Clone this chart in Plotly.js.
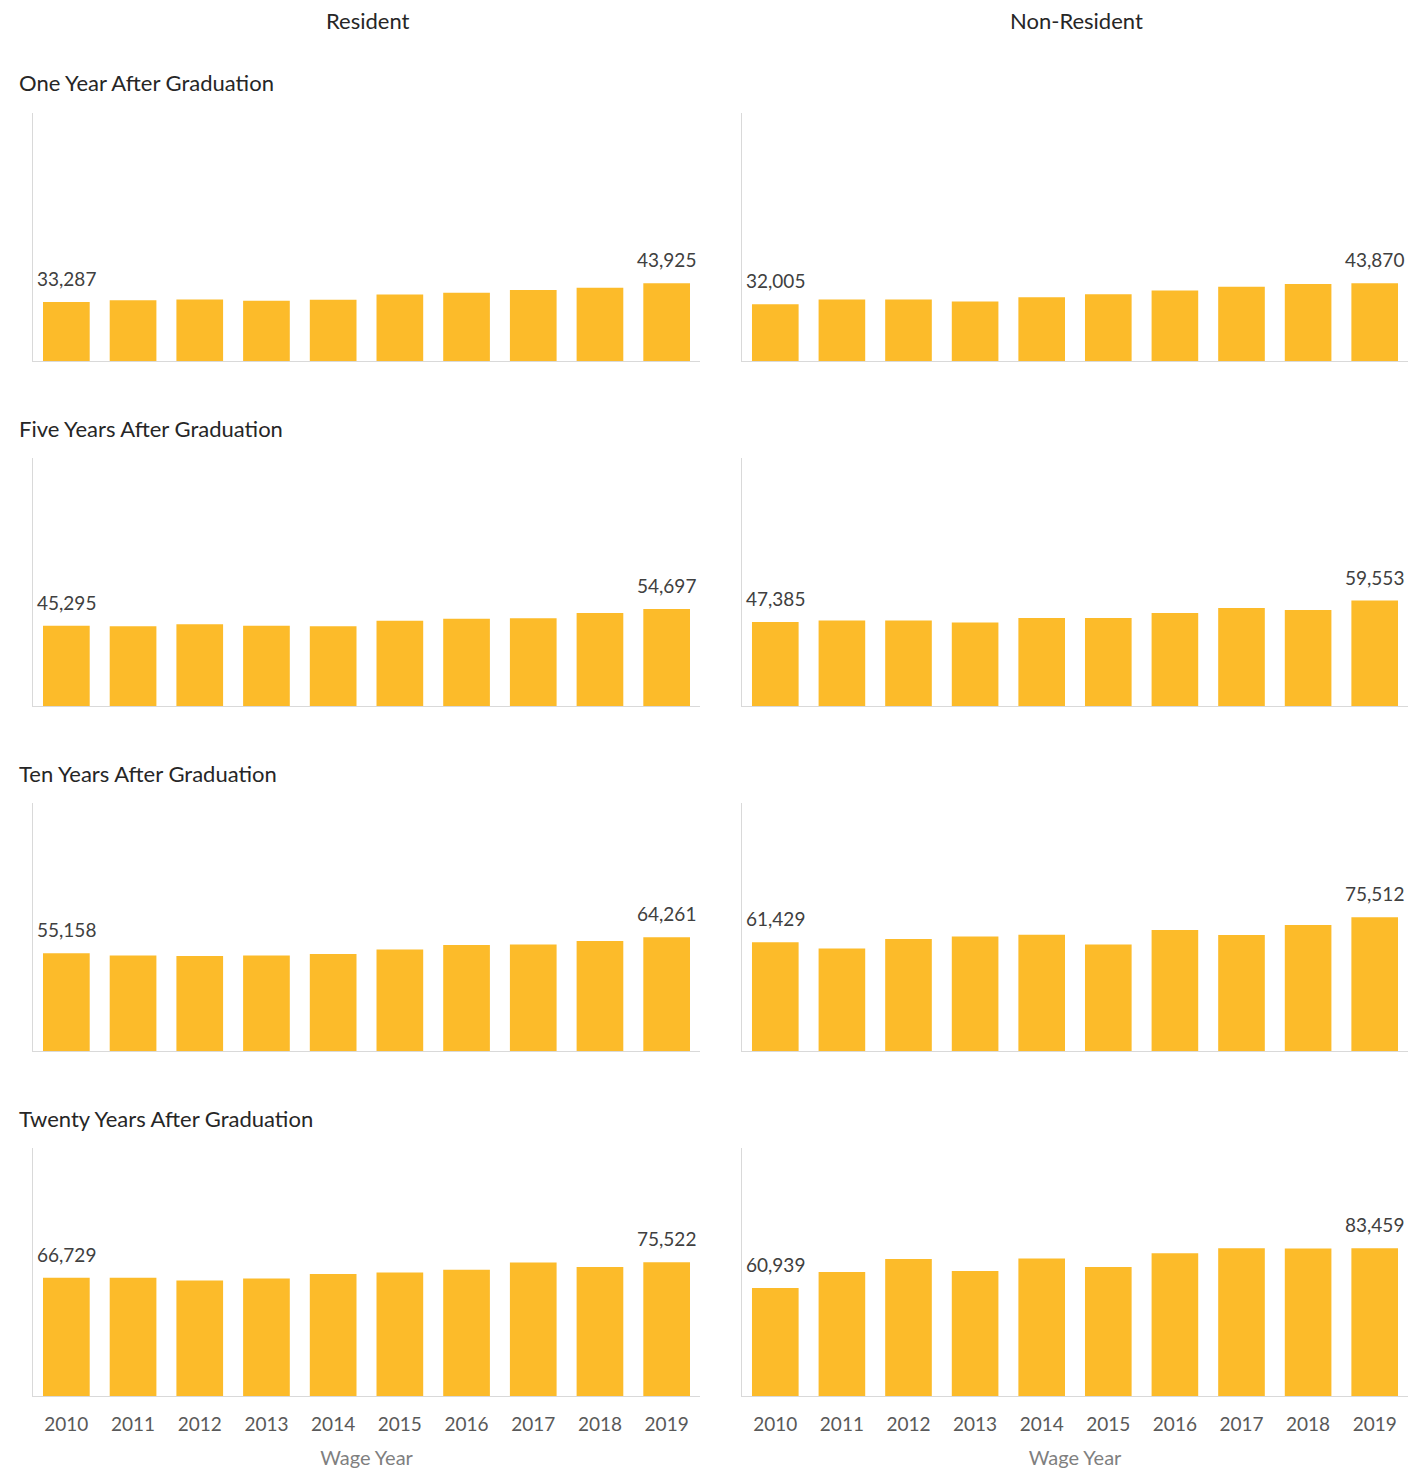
<!DOCTYPE html>
<html>
<head>
<meta charset="utf-8">
<script src="https://cdn.plot.ly/plotly-3.0.1.min.js"></script>
<style>html,body{margin:0;padding:0;background:#fff;}#chart{width:1408px;height:1470px;}</style>
</head>
<body>
<div id="chart"></div>
<script>
// ---- Data ----
const years = ['2010','2011','2012','2013','2014','2015','2016','2017','2018','2019'];
const columnTitles = ['Resident', 'Non-Resident'];
const rowTitles = ['One Year After Graduation', 'Five Years After Graduation', 'Ten Years After Graduation', 'Twenty Years After Graduation'];
const xAxisTitle = 'Wage Year';

const resident1 = [33287, 34360, 34740, 33980, 34550, 37570, 38520, 40030, 41350, 43925];
const nonResident1 = [32005, 34720, 34720, 33590, 36040, 37740, 39820, 41890, 43400, 43870];
const resident5 = [45295, 45080, 46210, 45295, 45080, 48090, 49230, 49600, 52430, 54697];
const nonResident5 = [47385, 48200, 48200, 47100, 49710, 49710, 52540, 55360, 54230, 59553];
const resident10 = [55158, 53960, 53580, 53960, 54710, 57340, 59780, 60160, 62040, 64261];
const nonResident10 = [61429, 57900, 63170, 64670, 65610, 60160, 68240, 65420, 71060, 75512];
const resident20 = [66729, 66700, 65240, 66360, 68810, 69750, 71250, 75390, 72760, 75522];
const nonResident20 = [60939, 69940, 77270, 70500, 77640, 72760, 80650, 83400, 83280, 83459];

const panels = [
  [resident1, nonResident1],
  [resident5, nonResident5],
  [resident10, nonResident10],
  [resident20, nonResident20]
];

// ---- Layout geometry (pixels) ----
const W = 1408, H = 1470;
const colPx = [[33, 700], [742, 1408]];
const rowPx = [[113, 361], [458, 706], [803, 1051], [1148, 1396]];
const rowTitleY = [83, 428, 773, 1118];
const colTitleX = [368, 1076];
const FONT = 'Lato, "Open Sans", sans-serif';
const BAR = '#FCBB2A';

const fmt = v => v.toLocaleString('en-US');

const data = [];
const layout = {
  width: W, height: H,
  margin: {l: 0, r: 0, t: 0, b: 0},
  paper_bgcolor: '#fff', plot_bgcolor: '#fff',
  showlegend: false,
  bargap: 0.3,
  font: {family: FONT, color: '#595959'},
  annotations: []
};

let idx = 0;
for (let r = 0; r < 4; r++) {
  for (let c = 0; c < 2; c++) {
    idx++;
    const xa = idx === 1 ? 'x' : 'x' + idx;
    const ya = idx === 1 ? 'y' : 'y' + idx;
    const vals = panels[r][c];
    data.push({
      type: 'bar', x: years, y: vals, xaxis: xa, yaxis: ya,
      marker: {color: BAR, line: {width: 0}},
      hoverinfo: 'x+y'
    });
    const last = r === 3;
    layout['xaxis' + (idx === 1 ? '' : idx)] = {
      domain: [colPx[c][0] / W, colPx[c][1] / W],
      anchor: ya,
      type: 'category',
      range: [-0.5, years.length - 0.5],
      autorange: false,
      showline: true, linecolor: '#d9d9d9', linewidth: 1,
      showgrid: false, zeroline: false, ticks: '',
      showticklabels: last,
      ticklabelstandoff: 11,
      tickfont: {family: FONT, size: 19, color: '#595959'},
      title: last ? {text: xAxisTitle, font: {family: FONT, size: 20, color: '#7f7f7f'}, standoff: 17} : {text: ''},
      fixedrange: true
    };
    layout['yaxis' + (idx === 1 ? '' : idx)] = {
      domain: [1 - rowPx[r][1] / H, 1 - rowPx[r][0] / H],
      anchor: xa,
      range: [0, 140000],
      autorange: false,
      showline: true, linecolor: '#d9d9d9', linewidth: 1,
      showgrid: false, zeroline: false, ticks: '', showticklabels: false,
      fixedrange: true
    };
    // data labels on first and last bars
    [0, vals.length - 1].forEach(i => {
      layout.annotations.push({
        xref: xa, yref: ya, x: i, y: vals[i],
        text: fmt(vals[i]), showarrow: false,
        xanchor: 'center', yanchor: 'bottom', yshift: 10,
        font: {family: FONT, size: 19, color: '#404040'}
      });
    });
  }
}

rowTitles.forEach((t, r) => {
  layout.annotations.push({
    xref: 'paper', yref: 'paper', x: 17 / W, y: 1 - rowTitleY[r] / H,
    xanchor: 'left', yanchor: 'middle', text: t, showarrow: false,
    font: {family: FONT, size: 22, color: '#262626'}
  });
});
columnTitles.forEach((t, c) => {
  layout.annotations.push({
    xref: 'paper', yref: 'paper', x: colTitleX[c] / W, y: 1 - 20 / H,
    xanchor: 'center', yanchor: 'middle', text: t, showarrow: false,
    font: {family: FONT, size: 22, color: '#262626'}
  });
});

Plotly.newPlot('chart', data, layout, {displayModeBar: false, staticPlot: true});
</script>
</body>
</html>
